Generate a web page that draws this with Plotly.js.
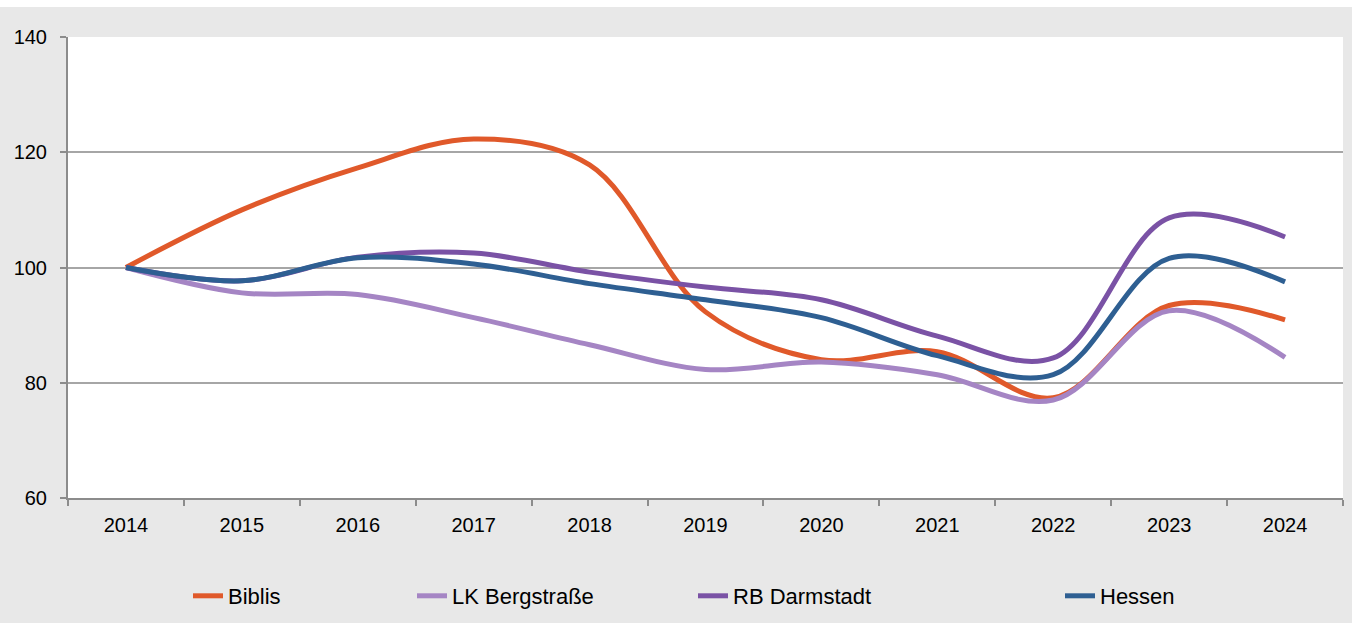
<!DOCTYPE html>
<html>
<head>
<meta charset="utf-8">
<script src="https://cdn.plot.ly/plotly-3.0.1.min.js"></script>
<style>
  html, body { margin: 0; padding: 0; background: #ffffff; }
  #chart { width: 1352px; height: 616px; margin-top: 7px; }
</style>
</head>
<body>
<div id="chart"></div>
<script>
// Index values (2014 = 100)
const years = ['2014', '2015', '2016', '2017', '2018', '2019', '2020', '2021', '2022', '2023', '2024'];
const biblis = [100, 110, 117.3, 122.3, 117.8, 92.3, 84, 85.4, 77.4, 93.4, 90.9];
const bergstrasse = [100, 95.6, 95.3, 91.3, 86.6, 82.3, 83.6, 81.4, 77, 92.5, 84.4];
const darmstadt = [100, 97.7, 101.8, 102.5, 99.2, 96.6, 94.4, 88.1, 84.3, 108.6, 105.3];
const hessen = [100, 97.7, 101.7, 100.6, 97.2, 94.4, 91.3, 84.7, 81.4, 101.6, 97.5];

const seriesNames = ['Biblis', 'LK Bergstraße', 'RB Darmstadt', 'Hessen'];
const seriesColors = ['#e0592a', '#a585c4', '#7a52a5', '#2e5f92'];
const seriesValues = [biblis, bergstrasse, darmstadt, hessen];
const legendIds = ['legend', 'legend2', 'legend3', 'legend4'];
const legendTextX = [229, 453, 734, 1101];

const font = 'Liberation Sans, Arial, sans-serif';

const traces = seriesValues.map((vals, i) => ({
  x: years,
  y: vals,
  type: 'scatter',
  mode: 'lines',
  name: seriesNames[i],
  legend: legendIds[i],
  line: { color: seriesColors[i], width: 5, shape: 'spline', smoothing: 1 }
}));

const layout = {
  paper_bgcolor: '#e8e8e8',
  plot_bgcolor: '#ffffff',
  font: { family: font, color: '#000000', size: 20 },
  margin: { l: 68, r: 9, t: 30, b: 125 },
  showlegend: true,
  xaxis: {
    type: 'category',
    showline: true,
    linecolor: '#8c8c8c',
    linewidth: 2,
    ticks: 'outside',
    tickson: 'boundaries',
    ticklen: 6,
    tickwidth: 2,
    tickcolor: '#8c8c8c',
    showgrid: false,
    tickfont: { size: 20 },
    ticklabelstandoff: 8,
    range: [-0.5, 10.5]
  },
  yaxis: {
    range: [60, 140],
    tickvals: [60, 80, 100, 120, 140],
    showline: true,
    linecolor: '#8c8c8c',
    linewidth: 2,
    ticks: 'outside',
    ticklen: 6,
    tickwidth: 2,
    tickcolor: '#8c8c8c',
    gridcolor: '#a6a6a6',
    gridwidth: 1.5,
    zeroline: false,
    tickfont: { size: 20 },
    ticklabelstandoff: 9
  }
};

legendIds.forEach((id, i) => {
  layout[id] = {
    orientation: 'h',
    xref: 'container',
    yref: 'container',
    x: (legendTextX[i] - 41) / 1352,
    y: 1 - 589 / 616,
    xanchor: 'left',
    yanchor: 'middle',
    bgcolor: 'rgba(0,0,0,0)',
    font: { size: 22 }
  };
});

Plotly.newPlot('chart', traces, layout, { displayModeBar: false });
</script>
</body>
</html>
